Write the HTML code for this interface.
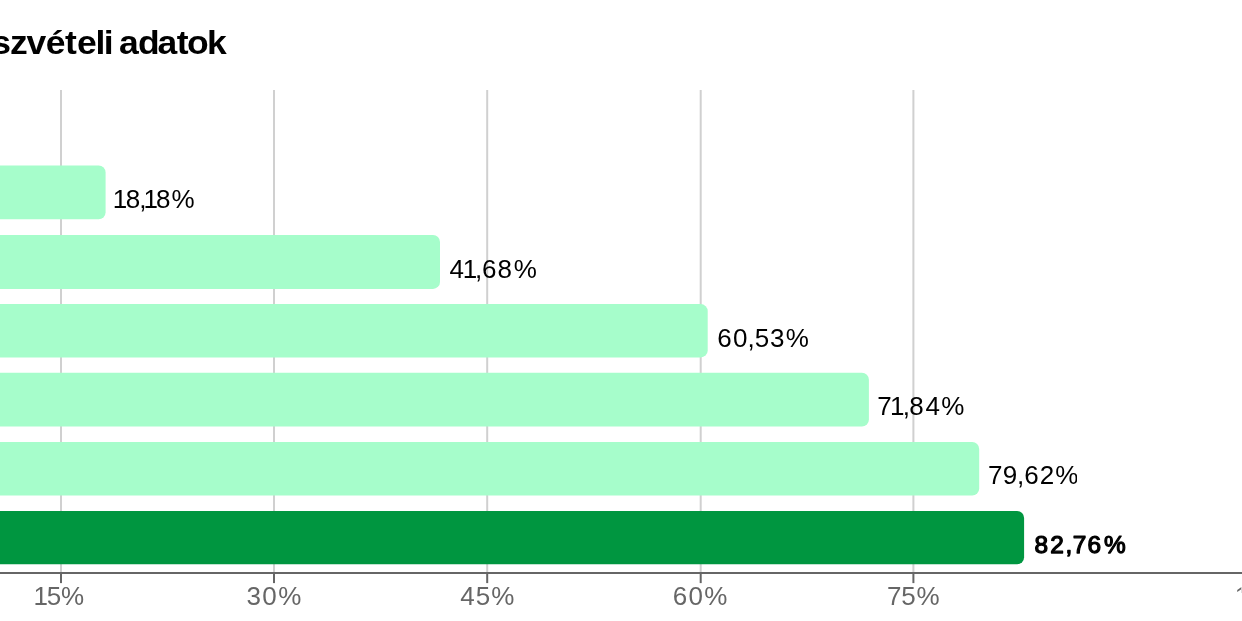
<!DOCTYPE html>
<html lang="hu">
<head>
<meta charset="utf-8">
<title>Részvételi adatok</title>
<style>
html,body{margin:0;padding:0;background:#fff;}
body{width:1242px;height:621px;overflow:hidden;position:relative;font-family:"Liberation Sans",sans-serif;}
svg{position:absolute;left:0;top:0;display:block;}
text{font-family:"Liberation Sans",sans-serif;}
.t{font-weight:700;fill:#000;font-size:33.5px;}
.v{fill:#000;font-size:26px;}
.b{stroke:#000;stroke-width:1.25px;font-size:24.4px;stroke-linejoin:round;}
.a{fill:#666;font-size:26px;}
</style>
</head>
<body>
<svg width="1242" height="621" viewBox="0 0 1242 621">
  <rect width="1242" height="621" fill="#fff"/>
  <text class="t" transform="scale(1.06,1)" x="-51.10 -26.92 -8.29 9.34 25.12 43.06 61.26 72.54 90.17 98.00 107.08 112.22 130.18 148.54 166.69 176.46 195.25" y="53.6">Részvételi adatok</text>
  <g fill="#d0d0d0">
    <rect x="60.00" y="90" width="2" height="482"/>
    <rect x="273.00" y="90" width="2" height="482"/>
    <rect x="486.20" y="90" width="2" height="482"/>
    <rect x="699.70" y="90" width="2" height="482"/>
    <rect x="912.40" y="90" width="2" height="482"/>
  </g>
  <g fill="#a6fdcb">
    <rect x="-20" y="165.50" width="125.60" height="53.80" rx="7"/>
    <rect x="-20" y="235.00" width="460.00" height="53.90" rx="7"/>
    <rect x="-20" y="304.10" width="727.70" height="53.30" rx="7"/>
    <rect x="-20" y="372.80" width="888.90" height="53.80" rx="7"/>
    <rect x="-20" y="441.90" width="999.20" height="53.60" rx="7"/>
  </g>
  <rect x="-20" y="511.00" width="1044.10" height="53.30" rx="7" fill="#009640"/>
  <rect x="0" y="572" width="1242" height="2" fill="#666"/>
  <g fill="#666">
    <rect x="60.00" y="574" width="2" height="9.1"/>
    <rect x="273.00" y="574" width="2" height="9.1"/>
    <rect x="486.20" y="574" width="2" height="9.1"/>
    <rect x="699.70" y="574" width="2" height="9.1"/>
    <rect x="912.40" y="574" width="2" height="9.1"/>
  </g>
  <text class="v" x="112.70 125.67 139.29 143.40 156.12 171.38" y="208">18,18%</text>
  <text class="v" x="449.55 462.80 475.09 481.98 497.52 513.73" y="278">41,68%</text>
  <text class="v" x="717.18 732.97 747.39 754.70 770.10 785.63" y="347">60,53%</text>
  <text class="v" x="877.16 890.00 902.84 909.27 925.40 941.33" y="415">71,84%</text>
  <clipPath id="c5"><rect x="980" y="455" width="96.9" height="40"/></clipPath>
  <text class="v" clip-path="url(#c5)" x="988.11 1002.77 1016.94 1024.28 1039.72 1055.28" y="484">79,62%</text>
  <text class="v b" x="1034.42 1050.17 1065.41 1072.70 1087.48 1103.99" y="553.4">82,76%</text>
  <text class="a" x="33.60 46.65 60.88" y="605">15%</text>
  <text class="a" x="246.60 262.27 278.13" y="605">30%</text>
  <text class="a" x="460.20 475.65 491.28" y="605">45%</text>
  <text class="a" x="672.78 688.47 704.13" y="605">60%</text>
  <text class="a" x="887.06 901.20 916.43" y="605">75%</text>
  <clipPath id="cA"><rect x="1230" y="580" width="11.3" height="13"/></clipPath>
  <text class="a" clip-path="url(#cA)" x="1234.80 1245.80 1261.30 1276.80" y="605">100%</text>
</svg>
</body>
</html>
